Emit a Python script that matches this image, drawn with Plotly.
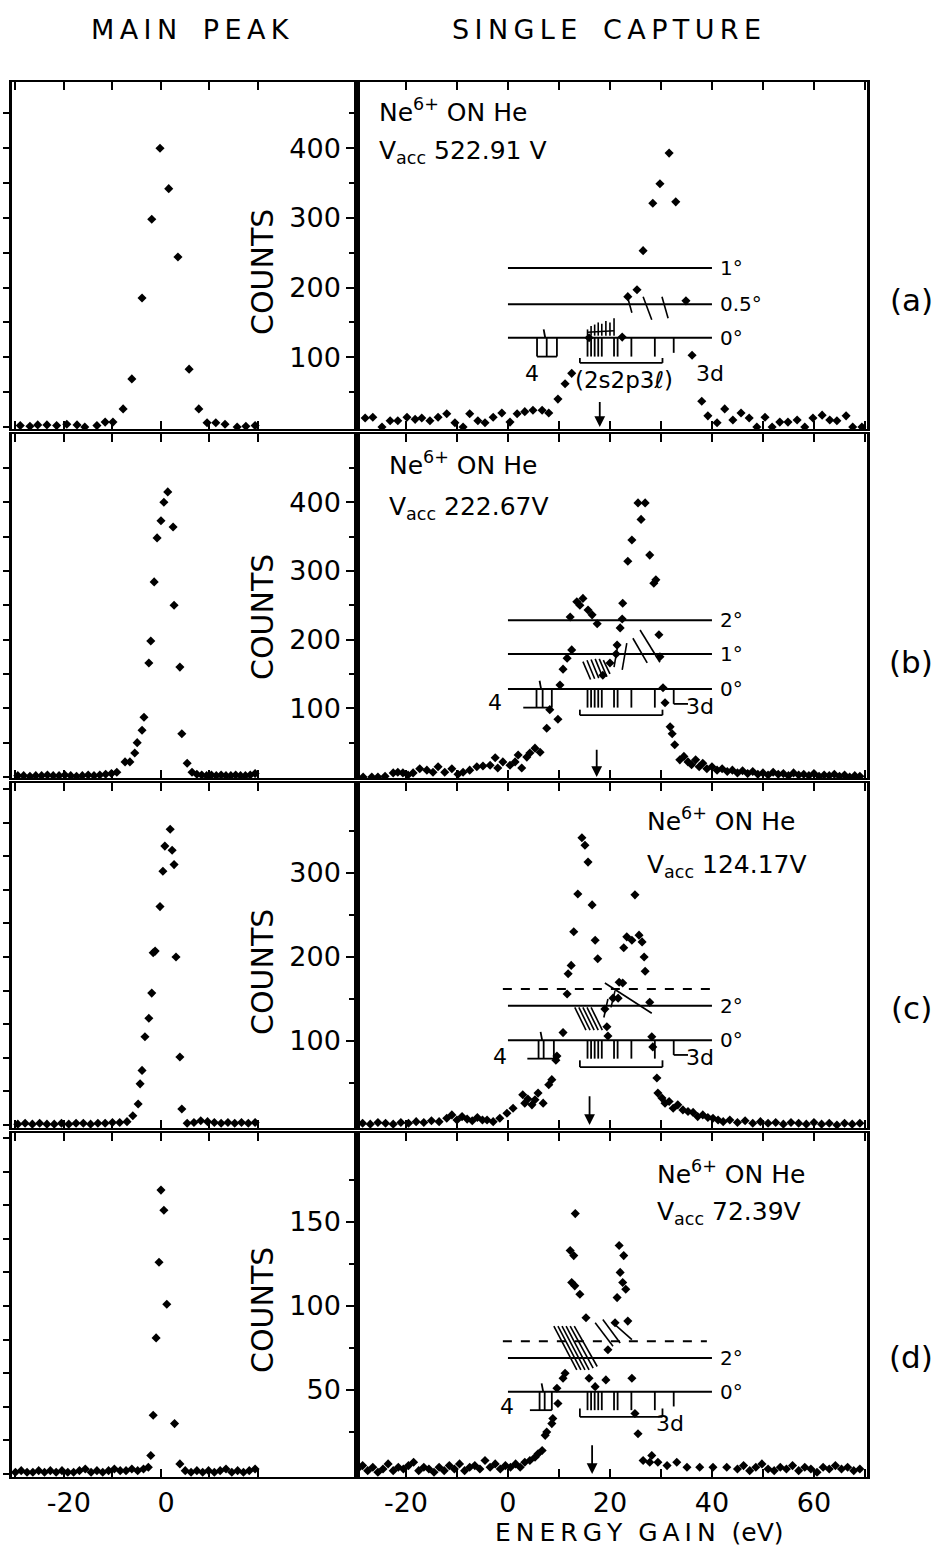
import plotly.graph_objects as go

W, H = 947, 1546
FONT = "DejaVu Sans"
TS = "\u2009"  # thin space used for the wide lettering

# ---------------- data (energy gain eV, counts) ----------------
a_left_x = [-29.0, -27.0, -25.4, -23.5, -21.5, -19.4, -17.3, -15.7, -13.2, -11.5, -9.9, -7.8, -6.0, -3.9, -1.9, -0.2,
            1.6, 3.5, 5.8, 7.8, 9.5, 11.3, 13.2, 15.7, 17.5, 19.4]
a_left_y = [2, 1, 3, 3, 2, 4, 3, 0, 2, 7, 7, 26, 69, 185, 298, 400,
            342, 244, 83, 26, 6, 6, 4, 0, 1, 2]

a_right_x = [-28.0, -26.5, -24.7, -23.1, -21.6, -19.8, -18.2, -16.9, -15.3, -13.7, -12.0, -10.4, -8.8, -7.5, -5.9,
             -4.5, -2.9, -1.2, 0.4, 1.8, 3.3, 4.9, 6.7, 8.0, 9.8, 11.2, 12.5, 15.9, 22.4, 23.5, 25.3, 26.5, 28.4,
             29.8, 31.6, 32.9, 34.9, 36.1, 38.0, 39.2, 41.0, 42.5, 44.1, 45.7, 47.3, 48.8, 50.4, 51.8, 53.3, 54.9,
             56.7, 58.2, 59.8, 61.6, 63.1, 64.5, 66.3, 67.6, 69.4]
a_right_y = [13, 14, 0, 9, 9, 14, 11, 13, 9, 14, 19, 6, 0, 19, 9,
             6, 14, 20, 7, 19, 22, 24, 24, 20, 40, 62, 77, 128, 129, 187, 197, 253, 321,
             349, 393, 323, 181, 103, 37, 16, 6, 26, 10, 20, 13, 0, 14, 0, 7, 7,
             10, 0, 13, 17, 10, 9, 16, 0, 0]

b_left_x = [-29.5, -28.3, -27.0, -25.8, -24.6, -23.4, -22.2, -21.0, -19.8, -18.6, -17.4, -16.2, -15.0, -13.8,
            -12.6, -11.4, -10.2, -9.1, -7.4, -6.4, -5.4, -4.9, -3.9, -3.5, -2.5, -2.1, -1.4, -0.8, 0.0, 0.6,
            1.4, 2.5, 2.7, 3.9, 4.3, 5.4, 6.4, 7.4, 8.4, 9.4, 10.4, 11.4, 12.4, 13.4, 14.4, 15.4, 16.4, 17.4,
            18.4, 19.4]
b_left_y = [2, 2, 1, 2, 2, 3, 2, 2, 3, 2, 1, 2, 3, 2,
            3, 4, 5, 7, 22, 22, 35, 50, 68, 87, 166, 198, 284, 348, 373, 400,
            415, 364, 250, 160, 63, 20, 7, 4, 3, 2, 3, 2, 3, 2, 2, 3, 2, 2,
            3, 5]

b_right_x = [-28.4, -26.7, -25.5, -24.1, -22.5, -21.6, -20.6, -19.6, -18.6, -17.3, -15.9, -14.7, -13.7, -12.4,
             -11.0, -9.8, -8.8, -7.5, -6.1, -4.9, -3.5, -2.5, -2.0, -1.0, 0.4, 1.4, 2.0, 2.7, 3.7, 4.3, 5.3,
             6.3, 7.6, 8.2, 9.8, 10.2, 10.8, 11.6, 12.2, 12.5, 13.5, 14.1, 14.7, 15.7, 16.5, 17.5, 18.6, 20.0,
             21.2, 21.4, 22.0, 22.4, 22.5, 23.5, 24.3, 25.5, 26.1, 26.9, 27.8, 28.6, 29.0, 29.6, 29.8, 30.4,
             30.8, 31.8, 32.2, 32.7, 33.7, 34.5, 35.3, 36.0, 36.8, 37.5, 38.2, 39.0, 40.0, 41.0, 42.0, 43.0,
             44.0, 45.0, 46.0, 47.0, 48.0, 49.0, 50.0, 51.0, 52.0, 53.0, 54.0, 55.0, 56.0, 57.0, 58.0, 59.0,
             60.0, 61.0, 62.0, 63.0, 64.0, 65.0, 66.0, 67.0, 68.0, 69.0]
b_right_y = [0, 0, 0, 1, 6, 7, 6, 3, 6, 12, 10, 7, 15, 7,
             12, 4, 7, 10, 15, 16, 17, 28, 13, 22, 17, 22, 32, 13, 29, 35, 42,
             36, 71, 98, 84, 134, 157, 173, 233, 185, 255, 250, 260, 243, 236, 223, 148, 166,
             179, 192, 217, 230, 253, 314, 345, 399, 375, 399, 323, 282, 287, 207, 175, 130,
             108, 73, 63, 47, 25, 30, 22, 18, 25, 15, 20, 12, 15, 10, 12, 8,
             10, 6, 9, 5, 8, 4, 6, 3, 7, 4, 5, 2, 6, 3, 4, 2,
             5, 1, 3, 2, 4, 1, 3, 0, 2, 1]

c_left_x = [-29.5, -28.0, -26.5, -25.0, -23.5, -22.0, -20.5, -19.0, -17.5, -16.0, -14.5, -13.0, -11.5, -10.0,
            -8.5, -7.0, -5.8, -4.7, -4.3, -3.9, -3.3, -2.5, -1.9, -1.6, -1.2, -0.2, 0.4, 0.8, 1.9, 2.3, 2.7,
            3.1, 3.9, 4.3, 5.4, 6.8, 8.2, 9.6, 11.0, 12.4, 13.8, 15.2, 16.6, 18.0, 19.4]
c_left_y = [1, 2, 1, 2, 1, 1, 2, 1, 2, 2, 1, 2, 2, 3,
            3, 4, 11, 25, 49, 65, 105, 127, 157, 205, 207, 260, 302, 332, 352, 327, 310,
            200, 81, 19, 2, 3, 5, 4, 3, 2, 3, 2, 3, 2, 3]

c_right_x = [-28.5, -27.0, -25.5, -24.0, -22.5, -21.0, -19.5, -18.0, -16.5, -15.0, -13.5, -12.0, -11.0, -10.0,
             -9.0, -8.0, -7.0, -6.0, -5.0, -4.1, -2.9, -1.6, -0.2, 1.0, 2.9, 3.3, 3.9, 4.7, 5.3, 5.9, 6.9,
             8.0, 8.6, 9.4, 9.6, 10.8, 11.6, 11.8, 12.4, 12.9, 13.7, 14.5, 15.1, 15.7, 16.5, 17.1, 17.6,
             19.0, 19.4, 19.6, 20.6, 21.6, 21.8, 22.5, 22.7, 23.3, 24.3, 24.9, 25.7, 26.3, 26.7, 26.9, 27.8,
             28.2, 28.4, 29.2, 29.4, 30.2, 30.8, 31.6, 32.4, 33.3, 34.3, 35.3, 36.3, 37.2, 38.2, 39.2, 40.2,
             41.2, 42.2, 43.5, 45.0, 46.5, 48.0, 49.5, 51.0, 52.5, 54.0, 55.5, 57.0, 58.5, 60.0, 61.5, 63.0,
             64.5, 66.0, 67.5, 69.0]
c_right_y = [2, 1, 3, 2, 1, 3, 2, 4, 3, 5, 4, 8, 12, 6,
             10, 7, 5, 9, 6, 6, 4, 8, 14, 20, 36, 26, 31, 24, 30, 38, 26,
             48, 54, 77, 82, 110, 156, 180, 190, 230, 275, 342, 333, 313, 262, 220, 198,
             138, 117, 106, 151, 151, 170, 169, 211, 224, 220, 274, 226, 218, 200, 183, 146,
             105, 93, 56, 38, 32, 26, 28, 20, 24, 18, 16, 15, 10, 12, 9, 8,
             6, 4, 6, 3, 5, 2, 4, 2, 3, 1, 3, 2, 1, 3, 1, 2,
             0, 2, 1, 2]

d_left_x = [-30.0, -28.8, -27.6, -26.4, -25.2, -24.0, -22.8, -21.6, -20.4, -19.2, -18.0, -16.8, -15.6, -14.4,
            -13.2, -12.0, -10.8, -9.6, -8.4, -7.2, -6.0, -4.8, -3.6, -2.6, -2.1, -1.6, -1.0, -0.4, 0.0, 0.6,
            1.2, 2.8, 3.9, 5.0, 6.2, 7.4, 8.6, 9.8, 11.0, 12.2, 13.4, 14.6, 15.8, 17.0, 18.2, 19.4]
d_left_y = [1, 2, 1, 1, 2, 1, 2, 1, 2, 1, 1, 2, 3, 1,
            2, 1, 2, 3, 2, 2, 3, 2, 3, 4, 11, 35, 81, 126, 169, 157,
            101, 30, 6, 2, 1, 2, 1, 2, 1, 2, 3, 1, 2, 1, 2, 3]

d_right_x = [-29.5, -28.5, -27.5, -26.5, -25.5, -24.5, -23.5, -22.5, -21.5, -20.5, -19.5, -18.5, -17.5, -16.5,
             -15.5, -14.5, -13.5, -12.5, -11.5, -10.5, -9.5, -8.5, -7.5, -6.5, -5.5, -4.5, -3.5, -2.5, -1.5,
             -0.5, 0.5, 1.5, 2.4, 3.3, 4.3, 5.3, 5.9, 6.7, 7.3, 7.6, 8.6, 8.8, 9.6, 9.8, 10.8, 11.2, 12.2,
             12.5, 12.9, 13.1, 13.2, 14.1, 15.3, 15.9, 17.1, 19.2, 19.6, 21.0, 21.4, 21.8, 22.0, 22.5, 22.7,
             23.1, 23.5, 24.3, 24.9, 25.5, 26.5, 27.8, 28.2, 29.4, 31.2, 33.1, 35.1, 37.6, 40.2, 42.9, 45.0,
             46.2, 47.4, 48.6, 49.8, 51.0, 52.2, 53.4, 54.6, 55.8, 57.0, 58.2, 59.4, 60.6, 61.8, 63.0, 64.2,
             65.4, 66.6, 67.8, 69.0]
d_right_y = [3, 5, 2, 4, 1, 3, 6, 2, 4, 3, 5, 7, 2, 4,
             3, 1, 4, 2, 5, 3, 6, 2, 4, 5, 3, 8, 4, 6, 3,
             5, 4, 6, 4, 7, 8, 10, 12, 14, 23, 25, 30, 33, 51, 42, 57, 60, 133,
             114, 130, 112, 155, 107, 93, 57, 52, 56, 74, 90, 105, 136, 120, 114, 130,
             110, 91, 57, 36, 24, 8, 7, 11, 7, 5, 7, 4, 4, 4, 4, 3,
             5, 2, 4, 6, 3, 2, 4, 3, 5, 2, 4, 3, 1, 4, 3, 5,
             3, 4, 2, 3]

LEFT_DATA = [(a_left_x, a_left_y), (b_left_x, b_left_y), (c_left_x, c_left_y), (d_left_x, d_left_y)]
RIGHT_DATA = [(a_right_x, a_right_y), (b_right_x, b_right_y), (c_right_x, c_right_y), (d_right_x, d_right_y)]

PANEL_LABELS = ["(a)", "(b)", "(c)", "(d)"]
VACC = ["522.91 V", "222.67V", "124.17V", "72.39V"]

# level scheme (eV) used for the schematic under each spectrum
LEVELS_2S2P3L = [15.6, 16.3, 17.0, 17.7, 18.4, 20.8, 21.5, 24.2, 28.8]
LEVEL_3D = 32.5
ARROW_E = [18.0, 17.4, 16.0, 16.5]

# ---------------- layout geometry ----------------
PANEL_TOP = [82, 434, 783, 1133]
PANEL_BOT = [429, 778, 1128, 1477]
ZERO_PX = [427, 777, 1125, 1474]
PX_PER_COUNT = [0.697, 0.687, 0.84, 1.68]
LEFT_PX = (12, 357)
RIGHT_PX = (357, 867)
LEFT_RANGE = [-30.7, 40.4]
RIGHT_RANGE = [-29.6, 70.4]
Y_TICKS = [[100, 200, 300, 400], [100, 200, 300, 400], [100, 200, 300], [50, 100, 150]]
Y_MINOR = [[50, 150, 250, 350, 450], [50, 150, 250, 350, 450], [50, 150, 250, 350], [25, 75, 125, 175]]
LEFT_DTICK = [50, 50, 40, 20]

fig = go.Figure()
layout = dict(width=W, height=H, margin=dict(l=0, r=0, t=0, b=0), paper_bgcolor="white",
              plot_bgcolor="white", showlegend=False, font=dict(family=FONT, color="black"))


def ax_name(prefix, n):
    return prefix if n == 1 else f"{prefix}{n}"


def spaced(s):
    return TS.join(list(s))


shapes = []
annotations = []


def seg(xr, yr, x0, y0, x1, y1, dash="solid", w=1.8):
    shapes.append(dict(type="line", xref=xr, yref=yr, x0=x0, y0=y0, x1=x1, y1=y1,
                       line=dict(color="black", width=w, dash=dash)))


def txt(xr, yr, x, y, s, size=20, xanchor="left"):
    annotations.append(dict(xref=xr, yref=yr, x=x, y=y, text=s, showarrow=False,
                            font=dict(size=size, family=FONT, color="black"), xanchor=xanchor, yanchor="middle"))


def ptxt(px, py, s, size, angle=0, xanchor="center"):
    annotations.append(dict(xref="paper", yref="paper", x=px / W, y=1 - py / H, text=s, textangle=angle,
                            showarrow=False, font=dict(size=size, family=FONT, color="black"),
                            xanchor=xanchor, yanchor="middle"))


for r in range(4):
    nl, nr = 2 * r + 1, 2 * r + 2
    ylo = -(PANEL_BOT[r] - ZERO_PX[r]) / PX_PER_COUNT[r]
    yhi = (ZERO_PX[r] - PANEL_TOP[r]) / PX_PER_COUNT[r]
    ydom = [1 - PANEL_BOT[r] / H, 1 - PANEL_TOP[r] / H]
    bottom = (r == 3)
    common_x = dict(showline=True, linecolor="black", linewidth=2.2, mirror="ticks", ticks="inside",
                    ticklen=8, tickwidth=2, tickcolor="black", showgrid=False, zeroline=False,
                    tickfont=dict(size=27, family=FONT, color="black"), showticklabels=bottom)
    layout[ax_name("xaxis", nl)] = dict(common_x, domain=[LEFT_PX[0] / W, LEFT_PX[1] / W], range=LEFT_RANGE,
                                        anchor=ax_name("y", nl), tickmode="array",
                                        tickvals=[-30, -20, -10, 0, 10, 20],
                                        ticktext=["", "-20", "", "0", "", ""], ticklabelshift=5)
    layout[ax_name("xaxis", nr)] = dict(common_x, domain=[RIGHT_PX[0] / W, RIGHT_PX[1] / W], range=RIGHT_RANGE,
                                        anchor=ax_name("y", nr), tickmode="array",
                                        tickvals=[-30, -20, -10, 0, 10, 20, 30, 40, 50, 60, 70],
                                        ticktext=["", "-20", "", "0", "", "20", "", "40", "", "60", ""])
    layout[ax_name("yaxis", nl)] = dict(domain=ydom, range=[ylo, yhi], anchor=ax_name("x", nl),
                                        showline=True, linecolor="black", linewidth=2.5, mirror=True,
                                        ticks="outside", ticklen=6, tickwidth=2, tickcolor="black",
                                        tickmode="linear", tick0=0, dtick=LEFT_DTICK[r],
                                        showticklabels=False, showgrid=False, zeroline=False)
    layout[ax_name("yaxis", nr)] = dict(domain=ydom, range=[ylo, yhi], anchor=ax_name("x", nr),
                                        showline=True, linecolor="black", linewidth=2.5, mirror=True,
                                        ticks="outside", ticklen=8, tickwidth=2, tickcolor="black",
                                        tickmode="array", tickvals=Y_TICKS[r],
                                        ticktext=[str(v) for v in Y_TICKS[r]],
                                        minor=dict(tickvals=Y_MINOR[r], ticks="outside", ticklen=5,
                                                   tickwidth=2, tickcolor="black"),
                                        tickfont=dict(size=27, family=FONT, color="black"),
                                        showgrid=False, zeroline=False)

    for (xs, ys), n in ((LEFT_DATA[r], nl), (RIGHT_DATA[r], nr)):
        fig.add_trace(go.Scatter(x=xs, y=ys, mode="markers", xaxis=ax_name("x", n), yaxis=ax_name("y", n),
                                 marker=dict(symbol="diamond", size=7, color="black", line=dict(width=0)),
                                 hoverinfo="skip"))

    ptxt(262, [272, 617, 972, 1310][r], "COUNTS", 30, angle=-90)
    ptxt(911, [300, 662, 1008, 1357][r], PANEL_LABELS[r], 31)
    tx = [377, 387, 645, 655][r]
    ty1 = [110, 463, 820, 1172][r]
    ty2 = [152, 508, 866, 1213][r]
    ptxt(tx, ty1, "Ne<sup>6+</sup> ON He", 25, xanchor="left")
    ptxt(tx, ty2, "V<sub>acc</sub> " + VACC[r], 25, xanchor="left")

# ---------------- schematic level diagrams ----------------
ZERO_LINE = [128, 128, 101, 49]
DROP = [27, 27, 22, 11]
BRACKET_Y = [92, 90, 69, 34]
HOOK = [7, 8, 8, 5]
ANGLE_LINES = [[(228, "1°", "solid"), (176, "0.5°", "solid")],
               [(228, "2°", "solid"), (179, "1°", "solid")],
               [(162, None, "dash"), (142, "2°", "solid")],
               [(79, None, "dash"), (69, "2°", "solid")]]
N4_LEVELS = [[5.7, 7.6, 9.6], [5.6, 6.8, 8.6], [6.0, 7.0, 9.0], [6.2, 7.2, 8.6]]
N4_BASE_LEFT = [5.7, 3.0, 3.8, 4.3]
HATCH = [
    [(15.6, 131, 15.6, 140), (16.3, 131, 16.3, 145), (17.0, 131, 17.0, 147), (17.7, 131, 17.7, 150),
     (18.4, 131, 18.4, 148), (19.2, 131, 19.2, 152), (20.0, 131, 20.0, 150), (20.8, 131, 20.8, 156),
     (15.6, 136, 20.8, 138), (23.5, 185, 24.3, 164), (26.5, 187, 28.2, 154), (30.2, 187, 31.4, 156)],
    [(14.7, 168, 16.2, 142), (15.5, 170, 17.0, 143), (16.3, 171, 17.8, 144), (17.1, 172, 18.6, 145),
     (17.9, 172, 19.4, 146), (18.7, 170, 20.0, 150), (23.3, 195, 22.4, 156), (21.5, 190, 20.8, 160),
     (24.5, 202, 27.3, 166), (25.9, 214, 29.8, 167)],
    [(13.1, 140, 15.3, 113), (13.9, 140, 16.1, 113), (14.7, 140, 16.9, 113), (15.5, 140, 17.7, 113),
     (16.3, 140, 18.5, 113), (19.0, 169, 28.2, 133), (21.0, 160, 20.2, 140), (19.6, 150, 18.8, 128)],
    [(9.0, 88, 13.5, 62), (9.8, 88, 14.3, 62), (10.6, 88, 15.1, 62), (11.4, 88, 15.9, 62),
     (12.2, 88, 16.7, 63), (13.0, 88, 17.5, 64), (17.1, 90, 20.6, 76), (20.6, 90, 24.3, 80),
     (18.6, 92, 22.0, 78)],
]
FOUR_LABEL = [(4.7, 77), (-2.5, 108), (-1.6, 82), (-0.2, 40)]
THREED_LABEL = [(39.6, 77), (37.6, 103), (37.6, 80), (31.8, 30)]
ARROW_TOP = [38, 42, 36, 18]

for r in range(4):
    xr, yr = ax_name("x", 2 * r + 2), ax_name("y", 2 * r + 2)
    z = ZERO_LINE[r]
    for yv, lab, dash in ANGLE_LINES[r]:
        x0 = -1 if dash == "dash" else 0
        x1 = 39 if (dash == "dash" and r == 3) else 40
        seg(xr, yr, x0, yv, x1, yv, dash=dash, w=2)
        if lab:
            txt(xr, yr, 41.2, yv, lab)
    seg(xr, yr, 0, z, 40, z, w=2)
    txt(xr, yr, 41.2, z, "0°")
    for e in N4_LEVELS[r]:
        seg(xr, yr, e, z, e, z - DROP[r])
    seg(xr, yr, N4_BASE_LEFT[r], z - DROP[r], N4_LEVELS[r][-1], z - DROP[r])
    seg(xr, yr, N4_LEVELS[r][1] - 0.3, z, N4_LEVELS[r][1] - 0.6, z + DROP[r] * 0.45)
    for e in LEVELS_2S2P3L:
        seg(xr, yr, e, z, e, z - DROP[r])
    lo, hi = LEVELS_2S2P3L[0] - 1.5, LEVELS_2S2P3L[-1] + 1.5
    by = BRACKET_Y[r]
    seg(xr, yr, lo, by, hi, by)
    seg(xr, yr, lo, by, lo, by + HOOK[r])
    seg(xr, yr, hi, by, hi, by + HOOK[r])
    seg(xr, yr, LEVEL_3D, z, LEVEL_3D, z - DROP[r] * 0.8)
    if r in (1, 2):
        seg(xr, yr, LEVEL_3D, z - DROP[r] * 0.8, LEVEL_3D + 2.8, z - DROP[r] * 0.8)
    for (x0, y0, x1, y1) in HATCH[r]:
        seg(xr, yr, x0, y0, x1, y1, w=1.6)
    txt(xr, yr, FOUR_LABEL[r][0], FOUR_LABEL[r][1], "4", size=22, xanchor="center")
    txt(xr, yr, THREED_LABEL[r][0], THREED_LABEL[r][1], "3d", size=22, xanchor="center")
    if r == 0:
        txt(xr, yr, 22.8, 67, "(2s2p3ℓ)", size=23, xanchor="center")
    annotations.append(dict(xref=xr, yref=yr, axref=xr, ayref=yr, x=ARROW_E[r], y=0,
                            ax=ARROW_E[r], ay=ARROW_TOP[r], text="", showarrow=True,
                            arrowhead=2, arrowsize=1.2, arrowwidth=1.8, arrowcolor="black"))

# titles
ptxt(190, 29, spaced("MAIN") + "   " + spaced("PEAK"), 27)
ptxt(606, 29, spaced("SINGLE") + "   " + spaced("CAPTURE"), 27)
ptxt(639, 1532, spaced("ENERGY") + "  " + spaced("GAIN") + "  (eV)", 25)

layout["shapes"] = shapes
layout["annotations"] = annotations
fig.update_layout(**layout)
fig.write_html("out.html")
